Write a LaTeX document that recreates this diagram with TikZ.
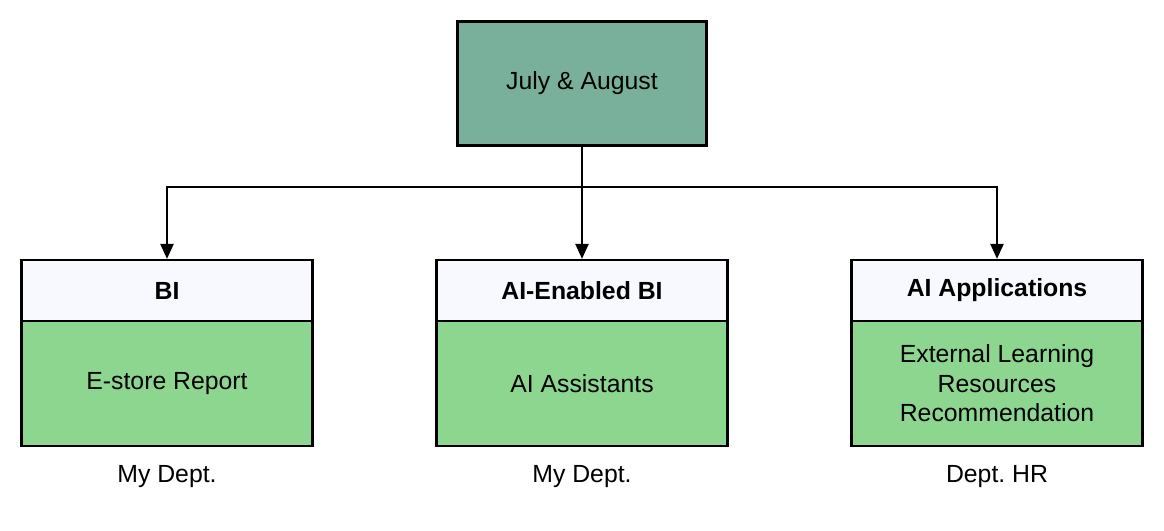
\documentclass[tikz,border=0pt]{standalone}
\usepackage{fontspec}
\setmainfont{Liberation Sans}
\usetikzlibrary{arrows.meta}
\definecolor{topgreen}{HTML}{79B09B}
\definecolor{boxgreen}{HTML}{8DD68F}
\definecolor{headfill}{HTML}{F8F9FF}
\frenchspacing
\begin{document}
\begin{tikzpicture}[x=1pt,y=-1pt,
  every node/.style={font=\fontsize{24.8}{29.5}\selectfont, inner sep=0pt},
  boxline/.style={draw=black, line width=2.2pt},
  conn/.style={draw=black, line width=2.2pt, -{Triangle[length=15pt,width=13pt]}},
  hdr/.style={boxline, fill=headfill, minimum width=291pt, minimum height=61pt, font=\fontsize{24.8}{29.5}\selectfont\bfseries},
  bodybox/.style={boxline, fill=boxgreen, minimum width=291pt, minimum height=125pt, align=center},
  dept/.style={font=\fontsize{24.8}{29.5}\selectfont}]
\useasboundingbox (0,0) rectangle (1164,530);
\node[boxline, fill=topgreen, minimum width=249pt, minimum height=124pt] (top) at (582,83.5) {July \& August};
\foreach \n/\x/\h/\b/\d in {l/167/BI/E-store Report/My Dept., m/582/AI-Enabled BI/AI Assistants/My Dept., r/997/AI Applications/{External Learning\\Resources\\Recommendation}/Dept. HR}{
  \node[bodybox] (\n b) at (\x,383.5) {\b};
  \node[hdr] (\n h) at (\x,290.5) {\h};
  \node[dept] (\n d) at (\x,477) {\d};
}
\coordinate (bus) at (582,187);
\draw[conn] (top.south) -- (mh.north);
\draw[conn] (bus) -| (lh.north);
\draw[conn] (bus) -| (rh.north);
\end{tikzpicture}
\end{document}
